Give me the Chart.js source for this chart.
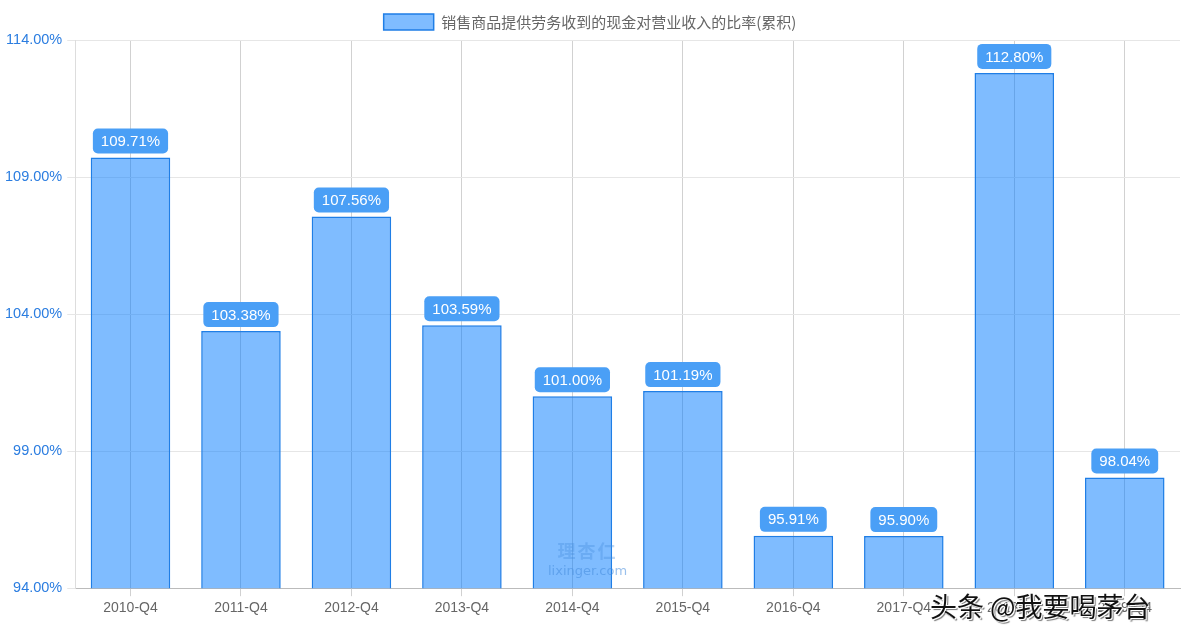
<!DOCTYPE html>
<html>
<head>
<meta charset="utf-8">
<script src="https://cdn.jsdelivr.net/npm/chart.js@4"></script>
<style>
  html, body { margin: 0; padding: 0; background: #fff; overflow: hidden; }
  #wrap { position: relative; width: 1196px; height: 641px; }
  #wm1 { position: absolute; left: 548px; top: 537px; color: rgba(70,140,220,0.55);
         font: 13px "DejaVu Sans", sans-serif; text-align: center; line-height: 15px; }
  #wm1 b { display: block; font: bold 18px "Noto Sans CJK SC"; letter-spacing: 2px; color: rgba(70,140,220,0.35); }
  #wm2 { position: absolute; left: 930px; top: 586px; font: 27px "Noto Sans CJK SC", sans-serif;
         color: #111; text-shadow: 1px 1px 0 #fff, -1px -1px 0 #fff, 2px 2px 1px #777; }
</style>
</head>
<body>
<div id="wrap">
  <canvas id="myChart" width="1196" height="641"></canvas>
  <div id="wm1"><b>理杏仁</b>lixinger.com</div>
  <div id="wm2">头条 @我要喝茅台</div>
</div>
<script>
// Data
const quarters = ["2010-Q4","2011-Q4","2012-Q4","2013-Q4","2014-Q4",
                  "2015-Q4","2016-Q4","2017-Q4","2018-Q4","2019-Q4"];
const ratios = [109.71, 103.38, 107.56, 103.59, 101.00, 101.19, 95.91, 95.90, 112.80, 98.04];
const seriesName = "销售商品提供劳务收到的现金对营业收入的比率(累积)";

// Rounded value boxes above each bar
const valueBoxes = {
  id: 'valueBoxes',
  afterDatasetsDraw(chart) {
    let ctx = chart.ctx;
    let meta = chart.getDatasetMeta(0);
    ctx.save();
    ctx.font = '15px "Liberation Sans", Arial, sans-serif';
    ctx.textAlign = 'center';
    ctx.textBaseline = 'middle';
    meta.data.forEach((bar, i) => {
      let txt = ratios[i].toFixed(2) + '%';
      let w = ctx.measureText(txt).width + 16;
      let h = 25;
      let x = bar.x - w / 2;
      let y = bar.y - 4 - h;
      ctx.fillStyle = '#4a9ff6';
      ctx.beginPath();
      ctx.roundRect(x, y, w, h, 5);
      ctx.fill();
      ctx.fillStyle = '#fff';
      ctx.fillText(txt, bar.x, y + h / 2 + 1);
    });
    ctx.restore();
  }
};

let ctx = document.getElementById('myChart').getContext('2d');
let myChart = new Chart(ctx, {
  type: 'bar',
  data: {
    labels: quarters,
    datasets: [{
      label: seriesName,
      data: ratios,
      backgroundColor: 'rgba(0,122,255,0.5)',
      borderColor: '#1f7ee6',
      borderWidth: 1.5
    }]
  },
  options: {
    responsive: false,
    animation: false,
    layout: { padding: { top: 3, right: 16, left: 0, bottom: 20 } },
    plugins: {
      legend: {
        position: 'top',
        labels: {
          boxWidth: 50, boxHeight: 16, color: '#666',
          font: { size: 15, family: '"Noto Sans CJK SC", sans-serif' },
          padding: 11
        }
      },
      tooltip: { enabled: false }
    },
    scales: {
      x: {
        grid: { offset: false, color: 'rgba(0,0,0,0.18)', tickLength: 8 },
        border: { color: '#bbb' },
        ticks: { color: '#666', font: { size: 14, family: '"Liberation Sans", Arial, sans-serif' }, padding: 4 }
      },
      y: {
        min: 94, max: 114,
        grid: { color: '#e6e6e6', tickLength: 8 },
        border: { color: '#ddd' },
        ticks: {
          stepSize: 5,
          color: '#2b7de0',
          font: { size: 14.5, family: '"Liberation Sans", Arial, sans-serif' },
          padding: 5,
          callback: v => v.toFixed(2) + '%'
        }
      }
    }
  },
  plugins: [valueBoxes]
});
</script>
</body>
</html>
